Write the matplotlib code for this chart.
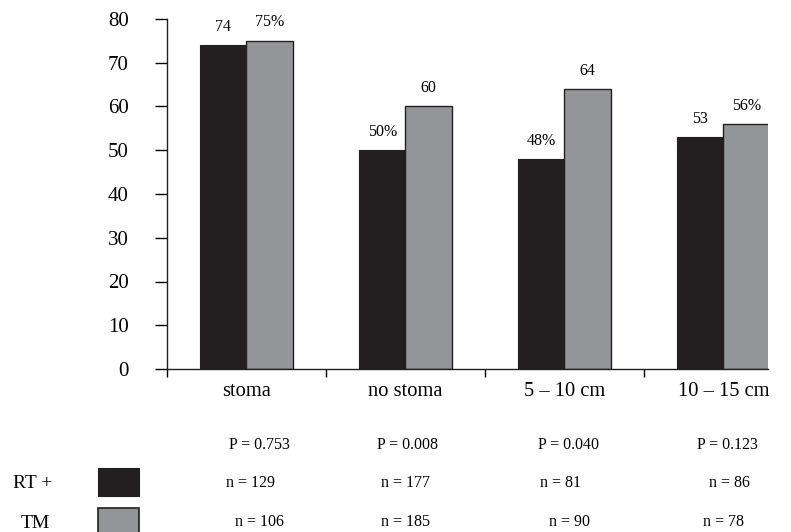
import numpy as np
import matplotlib.pyplot as plt
from matplotlib.patches import Rectangle
import matplotlib.transforms as mtransforms

plt.rcParams['font.family'] = ['Liberation Serif', 'DejaVu Serif']

# data
categories = ['stoma', 'no stoma', '5 – 10 cm', '10 – 15 cm']
rt_vals = [74, 50, 48, 53]
tm_vals = [75, 60, 64, 56]
rt_labels = ['74', '50%', '48%', '53']
tm_labels = ['75%', '60', '64', '56%']
p_text = ['P = 0.753', 'P = 0.008', 'P = 0.040', 'P = 0.123']
n_rt = ['n = 129', 'n = 177', 'n = 81', 'n = 86']
n_tm = ['n = 106', 'n = 185', 'n = 90', 'n = 78']

black = '#231f20'
grey = '#939598'

W, H = 791, 532
fig = plt.figure(figsize=(W / 100, H / 100), dpi=100)
ax = fig.add_axes([167 / W, (H - 369) / H, (768 - 167) / W, 350 / H])

x = np.arange(len(categories)) + 0.5
bw = 0.29
ax.bar(x - bw / 2, rt_vals, bw, color=black, edgecolor=black, linewidth=0.8)
ax.bar(x + bw / 2, tm_vals, bw, color=grey, edgecolor=black, linewidth=1.0)

for xi, v, s in zip(x - bw / 2, rt_vals, rt_labels):
    ax.annotate(s, (xi, v), xytext=(0, 7.5), textcoords='offset points',
                ha='center', va='bottom', fontsize=11.5)
for xi, v, s in zip(x + bw / 2, tm_vals, tm_labels):
    ax.annotate(s, (xi, v), xytext=(0, 7.5), textcoords='offset points',
                ha='center', va='bottom', fontsize=11.5)

ax.set_ylim(0, 80)
ax.set_xlim(0, 3.78)
ax.set_yticks(range(0, 81, 10))
ax.tick_params(axis='y', length=8.6, width=1, pad=19, labelsize=15)
ax.set_xticks(x)
ax.set_xticklabels(categories, fontsize=14.8)
ax.tick_params(axis='x', which='major', length=0, pad=9)
ax.set_xticks(np.arange(0, 4), minor=True)
ax.tick_params(axis='x', which='minor', length=6, width=1, direction='out')
for s in ['top', 'right']:
    ax.spines[s].set_visible(False)
for s in ['left', 'bottom']:
    ax.spines[s].set_linewidth(1)
    ax.spines[s].set_color('#231f20')

# table below the chart
trans = mtransforms.blended_transform_factory(ax.transData, fig.transFigure)
p_off = [0.08, 0.01, 0.025, 0.025]
rt_off = [0.025, 0.0, -0.025, 0.04]
tm_off = [0.08, 0.0, 0.03, 0.0]
for i in range(len(categories)):
    ax.text(x[i] + p_off[i], 1 - 445 / H, p_text[i], transform=trans,
            ha='center', va='center', fontsize=11.5, clip_on=False)
    ax.text(x[i] + rt_off[i], 1 - 483 / H, n_rt[i], transform=trans,
            ha='center', va='center', fontsize=11.5, clip_on=False)
    ax.text(x[i] + tm_off[i], 1 - 522 / H, n_tm[i], transform=trans,
            ha='center', va='center', fontsize=11.5, clip_on=False)

# legend boxes
fig.patches.append(Rectangle((98 / W, 1 - 496 / H), 41 / W, 28 / H,
                             transform=fig.transFigure, facecolor=black,
                             edgecolor=black, linewidth=0.8))
fig.patches.append(Rectangle((98 / W, 1 - 536 / H), 41 / W, 28 / H,
                             transform=fig.transFigure, facecolor=grey,
                             edgecolor=black, linewidth=1.2))
fig.text(33 / W, 1 - 484 / H, 'RT +', ha='center', va='center', fontsize=14)
fig.text(35 / W, 1 - 524 / H, 'TM', ha='center', va='center', fontsize=14)

fig.savefig('out.png', dpi=100)
